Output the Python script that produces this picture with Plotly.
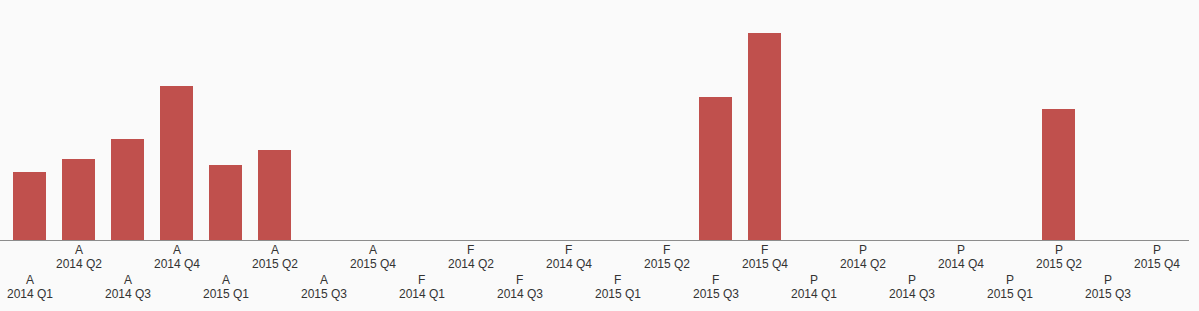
import plotly.graph_objects as go

scenarios = ["A"] * 8 + ["F"] * 8 + ["P"] * 8
periods = ["2014 Q1", "2014 Q2", "2014 Q3", "2014 Q4",
           "2015 Q1", "2015 Q2", "2015 Q3", "2015 Q4"] * 3
values = [68, 81, 101, 154, 75, 90, None, None,
          None, None, None, None, None, None, 143, 207,
          None, None, None, None, None, 131, None, None]

cats = [f"{s} {p}" for s, p in zip(scenarios, periods)]

fig = go.Figure(go.Bar(x=cats, y=values, marker=dict(color="#c0504d", line=dict(width=0))))

annotations = []
for i, (s, p) in enumerate(zip(scenarios, periods)):
    row = 1 if i % 2 else 0
    base = -10 if row else -39.5
    for text, off in ((s, 0), (p, -14)):
        annotations.append(dict(
            x=i, xref="x", y=0, yref="paper", yanchor="middle", xanchor="center",
            yshift=base + off, text=text, showarrow=False,
            font=dict(family="Arial, Liberation Sans", size=12, color="#333333")))

fig.update_layout(
    width=1199, height=311,
    margin=dict(l=0, r=10, t=0, b=71),
    paper_bgcolor="#fafafa", plot_bgcolor="#fafafa",
    bargap=16 / 49,
    showlegend=False,
    annotations=annotations,
    xaxis=dict(type="category", range=[-29.5 / 49, -29.5 / 49 + 1189 / 49],
               showticklabels=False, ticks="", showgrid=False, zeroline=False,
               showline=True, linecolor="#8c8c8c", linewidth=1),
    yaxis=dict(range=[0, 240], visible=False, showgrid=False, zeroline=False),
)

fig.write_html("out.html", config={"displayModeBar": False})
